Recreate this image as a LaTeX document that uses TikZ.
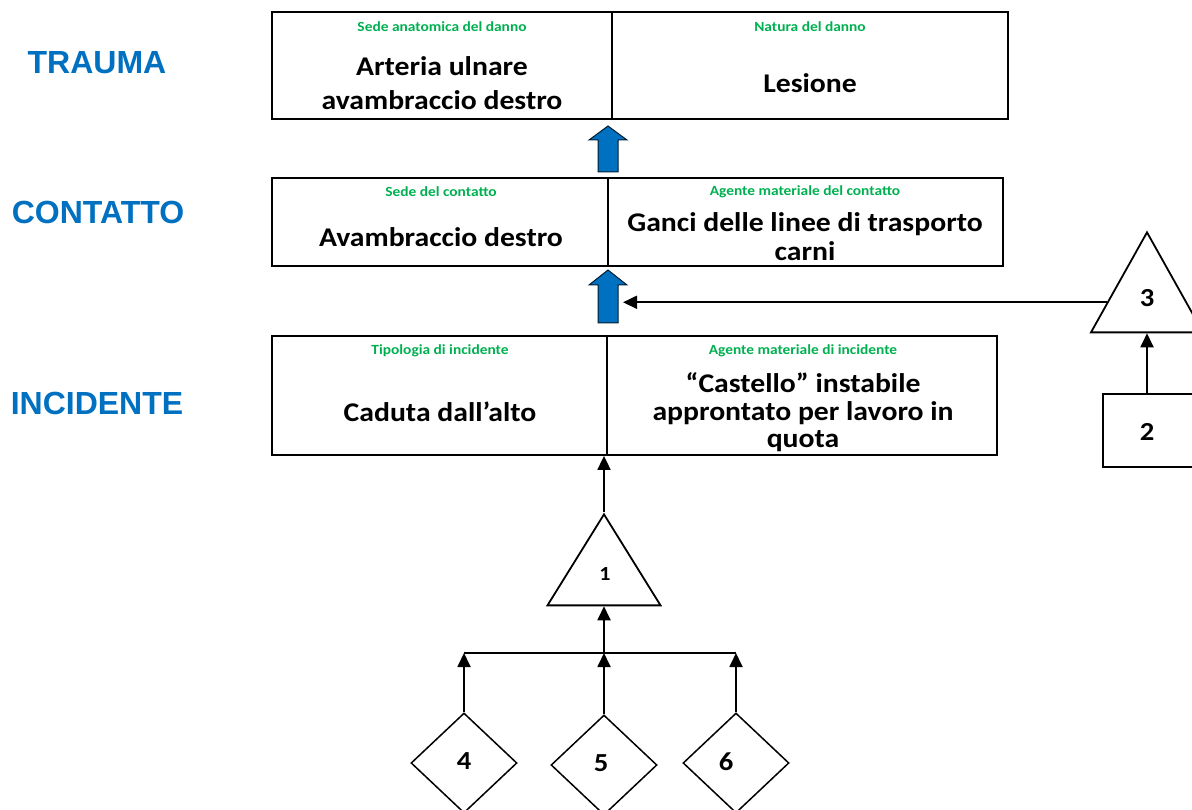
\documentclass[tikz,border=0pt]{standalone}
\usepackage{fontspec}
\setmainfont[FakeStretch=1.1]{Carlito}
\newfontfamily\arialfont{Liberation Sans}
\usetikzlibrary{shapes.geometric,arrows.meta,calc}
\definecolor{hdgreen}{RGB}{0,176,80}
\definecolor{lvlblue}{RGB}{0,112,192}

\begin{document}
\begin{tikzpicture}[x=1pt,y=-1pt,
  cell/.style={draw=black, line width=1.8pt, inner sep=0pt},
  hdr/.style={text=hdgreen, font=\fontsize{14}{17}\selectfont\bfseries},
  body/.style={align=center, font=\fontsize{27}{34}\selectfont\bfseries},
  lvl/.style={text=lvlblue, font=\arialfont\fontsize{32}{38}\selectfont\bfseries},
  upblock/.style={fill=lvlblue, draw=black!75!lvlblue, line width=1pt},
  link/.style={-{Triangle[length=14pt,width=13pt]}, line width=1.8pt},
  tri/.style={isosceles triangle, isosceles triangle stretches, shape border rotate=90, draw, line width=1.8pt, inner sep=0pt},
  gem/.style={diamond, draw, line width=1.5pt, minimum width=106pt, minimum height=100pt, inner sep=0pt},
  num/.style={font=\fontsize{26}{30}\selectfont\bfseries}
]
  \useasboundingbox (0,0) rectangle (1192,810);

  % Level names
  \node[lvl] (trauma) at (97,63) {TRAUMA};
  \node[lvl] (contatto) at (98,212) {CONTATTO};
  \node[lvl] (incidente) at (97,403) {INCIDENTE};

  % Trauma
  \node[cell, minimum width=340, minimum height=107] (tsede) at (442,65.5) {};
  \node[cell, minimum width=396, minimum height=107] (tnatura) at (810,65.5) {};
  \node[hdr] (tsedeh) at (442,27) {Sede anatomica del danno};
  \node[hdr] (tnaturah) at (810,27) {Natura del danno};
  \node[body] (tsedeb) at (442,83) {Arteria ulnare\\avambraccio destro};
  \node[body] (tnaturab) at (810,83) {Lesione};

  % Contatto
  \node[cell, minimum width=336, minimum height=88] (csede) at (440,222) {};
  \node[cell, minimum width=395, minimum height=88] (cagente) at (805.5,222) {};
  \node[hdr] (csedeh) at (441,192) {Sede del contatto};
  \node[hdr] (cagenteh) at (805,192) {Agente materiale del contatto};
  \node[body] (csedeb) at (441,237) {Avambraccio destro};
  \node[body, font=\fontsize{27}{29}\selectfont\bfseries] (cagenteb) at (805,236.5) {Ganci delle linee di trasporto\\carni};

  % Incidente
  \node[cell, minimum width=335, minimum height=119] (itipo) at (439.5,395.5) {};
  \node[cell, minimum width=390, minimum height=119] (iagente) at (802,395.5) {};
  \node[hdr] (itipoh) at (440,351) {Tipologia di incidente};
  \node[hdr] (iagenteh) at (803,351) {Agente materiale di incidente};
  \node[body] (itipob) at (440,412) {Caduta dall’alto};
  \node[body, font=\fontsize{27}{27.5}\selectfont\bfseries] (iagenteb) at (803,412.5) {“Castello” instabile\\approntato per lavoro in\\quota};

  % Block arrows between levels
  \coordinate (up1) at (608,172);
  \coordinate (up2) at (608,323);
  \draw[upblock] (up1) ++(-10,0) -- ++(0,-32) -- ++(-9,0) -- ++(19,-14) -- ++(19,14) -- ++(-9,0) -- ++(0,32) -- cycle;
  \draw[upblock] (up2) ++(-10,0) -- ++(0,-38) -- ++(-9,0) -- ++(19,-15) -- ++(19,15) -- ++(-9,0) -- ++(0,38) -- cycle;

  % Causes
  \node[tri, minimum width=112, minimum height=100, anchor=apex] (tri3) at (1147,230) {};
  \node[num] (n3) at (1147,298) {3};
  \node[cell, minimum width=94, minimum height=73] (box2) at (1150,430.5) {};
  \node[num] (n2) at (1147,432) {2};
  \node[tri, minimum width=113, minimum height=91, anchor=apex] (tri1) at (604,512) {};
  \node[num, font=\fontsize{20}{24}\selectfont\bfseries] (n1) at (605,574) {1};
  \node[gem] (gem4) at (464,763) {};
  \node[gem] (gem5) at (604,765) {};
  \node[gem] (gem6) at (736,763) {};
  \node[num] (n4) at (464,761) {4};
  \node[num] (n5) at (601,763) {5};
  \node[num] (n6) at (726,762) {6};

  % Connectors
  \coordinate (jointip) at (623,300);
  \coordinate (t3edge) at ($(tri3.apex)!0.7!(tri3.left corner)$);
  \coordinate (jl) at (464,653);
  \coordinate (jm) at (604,653);
  \coordinate (jr) at (736,653);
  \draw[link] (t3edge) -- (t3edge -| jointip);
  \draw[link] (box2.north -| tri3.apex) -- (tri3.lower side);
  \draw[link] (tri1.apex) -- (tri1.apex |- itipo.south);
  \draw[line width=1.5pt] (jl) -- (jr);
  \draw[link] (jm) -- (tri1.lower side);
  \draw[link] (gem4.north) -- (jl);
  \draw[link] (gem5.north) -- (jm);
  \draw[link] (gem6.north) -- (jr);
\end{tikzpicture}
\end{document}
